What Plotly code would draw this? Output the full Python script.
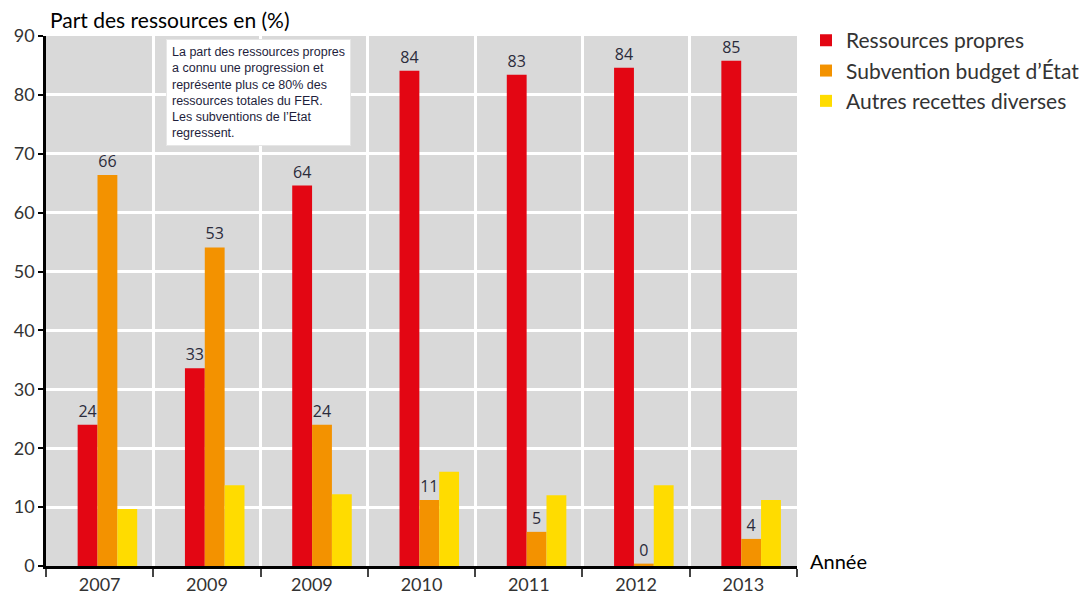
import plotly.graph_objects as go

# --------------------------------------------
# Data
# --------------------------------------------
years = ["2007", "2009", "2009 ", "2010", "2011", "2012", "2013"]

ressources_propres = [24.0, 33.6, 64.6, 84.1, 83.4, 84.6, 85.8]
subvention_etat = [66.4, 54.1, 24.0, 11.2, 5.8, 0.4, 4.6]
autres_recettes = [9.7, 13.7, 12.2, 16.0, 12.0, 13.7, 11.2]

# labels as printed on the original chart
labels_propres = ["24", "33", "64", "84", "83", "84", "85"]
labels_etat = ["66", "53", "24", "11", "5", "0", "4"]

y_ticks = list(range(0, 100, 10))

RED = "#E30613"
ORANGE = "#F39200"
YELLOW = "#FFDC00"
LABEL_FONT = dict(family="Open Sans", size=16, color="#2B2B3B")

# --------------------------------------------
# Figure (page body adds ~8px margin, so figure is a bit smaller)
# --------------------------------------------
fig = go.Figure()

fig.add_trace(go.Bar(
    x=years, y=ressources_propres, name="Ressources propres",
    marker=dict(color=RED, line=dict(width=0)),
    width=0.185, offset=-0.205,
    text=labels_propres, textposition="outside", textfont=LABEL_FONT,
    cliponaxis=False,
))
fig.add_trace(go.Bar(
    x=years, y=subvention_etat, name="Subvention budget d’État",
    marker=dict(color=ORANGE, line=dict(width=0)),
    width=0.185, offset=-0.02,
    text=labels_etat, textposition="outside", textfont=LABEL_FONT,
    cliponaxis=False,
))
fig.add_trace(go.Bar(
    x=years, y=autres_recettes, name="Autres recettes diverses",
    marker=dict(color=YELLOW, line=dict(width=0)),
    width=0.185, offset=0.165,
))

fig.update_layout(
    width=1081, height=590,
    margin=dict(l=38, r=292, t=28, b=32, autoexpand=False),
    paper_bgcolor="white",
    plot_bgcolor="#D9D9D9",
    font=dict(family="Lato", size=18, color="#333333"),
    barmode="overlay",
    showlegend=True,
    legend=dict(
        x=1.012, y=1.03, xanchor="left", yanchor="top",
        font=dict(family="Lato", size=21, color="#333333"),
        bgcolor="rgba(0,0,0,0)",
        traceorder="normal",
    ),
)

fig.update_xaxes(
    type="category",
    range=[-0.5, 6.5],
    tickson="boundaries",
    ticks="outside", ticklen=8, tickwidth=1.5, tickcolor="#444444",
    showgrid=True, gridcolor="white", gridwidth=2.5,
    showline=True, linecolor="black", linewidth=3,
    tickfont=dict(family="Lato", size=18, color="#333333"),
    automargin=False,
    fixedrange=True,
)

fig.update_yaxes(
    range=[0, 90],
    tickvals=y_ticks,
    ticks="outside", ticklen=5, tickwidth=1.5, tickcolor="black",
    showgrid=True, gridcolor="white", gridwidth=2.5,
    showline=True, linecolor="black", linewidth=2.5,
    zeroline=False,
    tickfont=dict(family="Lato", size=18, color="#333333"),
    automargin=False,
    fixedrange=True,
)

# axis titles placed as in the original
fig.add_annotation(
    text="Part des ressources en (%)",
    xref="paper", yref="paper", x=0.003, y=1.0,
    xanchor="left", yanchor="bottom", yshift=2,
    showarrow=False,
    font=dict(family="Lato", size=21, color="black"),
)
fig.add_annotation(
    text="Année",
    xref="paper", yref="paper", x=1.015, y=0,
    xanchor="left", yanchor="middle", yshift=5,
    showarrow=False,
    font=dict(family="Lato", size=20, color="black"),
)

# comment box
fig.add_annotation(
    text=("La part des ressources propres<br>"
          "a connu une progression et<br>"
          "représente plus ce 80% des<br>"
          "ressources totales du FER.<br>"
          "Les subventions de l’Etat<br>"
          "regressent."),
    xref="paper", yref="paper", x=0.16, y=0.994,
    xanchor="left", yanchor="top",
    align="left", showarrow=False,
    bgcolor="white", bordercolor="#E6E6E6", borderwidth=1, borderpad=5,
    font=dict(family="Liberation Sans Narrow, Liberation Sans", size=12.5, color="#1E1E3C"),
)

fig.write_html("out.html")
